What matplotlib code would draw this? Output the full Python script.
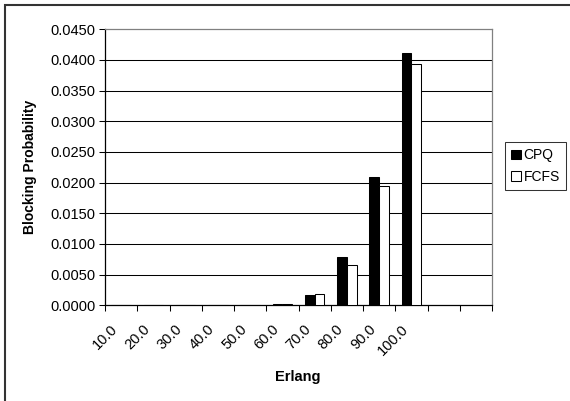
import matplotlib
matplotlib.use("Agg")
import matplotlib.pyplot as plt
from matplotlib.patches import Rectangle
import numpy as np

plt.rcParams['font.family'] = ['Liberation Sans', 'DejaVu Sans']

# Blocking probability per offered load (Erlang)
erlang = ['10.0', '20.0', '30.0', '40.0', '50.0', '60.0', '70.0', '80.0', '90.0', '100.0']
cpq  = [0.0, 0.0, 0.0, 0.0, 0.0, 0.0002, 0.0016, 0.0078, 0.0210, 0.0411]
fcfs = [0.0, 0.0, 0.0, 0.0, 0.0, 0.0002, 0.0018, 0.0065, 0.0195, 0.0394]
n_slots = 12          # the category axis has two empty slots at the end
y_ticks = np.arange(0, 0.0451, 0.005)

fig = plt.figure(figsize=(5.70, 4.01), dpi=100)
ax = fig.add_axes([105 / 570, 1 - 305.3 / 401, 387 / 570, 276 / 401])

centers = np.arange(len(erlang)) + 0.5
bw = 0.3
ax.bar(centers - bw / 2, cpq, bw, color='black', edgecolor='black', linewidth=0.75,
       label='CPQ', zorder=3)
ax.bar(centers + bw / 2, fcfs, bw, color='white', edgecolor='black', linewidth=0.75,
       label='FCFS', zorder=3)

# horizontal gridlines
for y in y_ticks[1:-1]:
    ax.axhline(y, color='black', linewidth=0.75, zorder=1)

ax.set_xlim(0, n_slots)
ax.set_ylim(0, 0.045)

# category boundaries get tick marks; the rotated labels hang just left of each center
ax.set_xticks(np.arange(n_slots + 1))
ax.set_xticklabels([])
ax.set_xticks(centers - 0.33, minor=True)
ax.set_xticklabels(erlang, minor=True, rotation=45, ha='right',
                   rotation_mode='anchor', fontsize=10.5)
ax.tick_params(axis='x', which='major', direction='out', length=4, width=0.75)
ax.tick_params(axis='x', which='minor', length=0, pad=12)

ax.set_yticks(y_ticks)
ax.set_yticklabels(['%.4f' % v for v in y_ticks], fontsize=10.5)
ax.tick_params(axis='y', direction='out', length=4, width=0.75, pad=3)

for side in ('left', 'bottom'):
    ax.spines[side].set_color('black')
    ax.spines[side].set_linewidth(0.9)
for side in ('top', 'right'):
    ax.spines[side].set_color('#808080')
    ax.spines[side].set_linewidth(0.9)

fig.text(30 / 570, 1 - 167 / 401, 'Blocking Probability', rotation=90,
         ha='center', va='center', fontsize=10, fontweight='bold')
fig.text(298 / 570, 1 - 377 / 401, 'Erlang', ha='center', va='center',
         fontsize=10.5, fontweight='bold')

leg = ax.legend(loc='upper left', bbox_to_anchor=(505 / 570, 1 - 142 / 401),
                bbox_transform=fig.transFigure, frameon=True, fancybox=False,
                edgecolor='black', fontsize=10, handlelength=0.7,
                handleheight=0.7, handletextpad=0.2, borderpad=0.45,
                labelspacing=0.55, borderaxespad=0)
leg.get_frame().set_linewidth(0.75)

# outer chart frame
fig.patches.append(Rectangle((5 / 570, -0.1), 1.2, 1 - 5 / 401 + 0.1,
                             transform=fig.transFigure, fill=False,
                             edgecolor='#333333', linewidth=1.5))

fig.savefig('out.png', dpi=100)
